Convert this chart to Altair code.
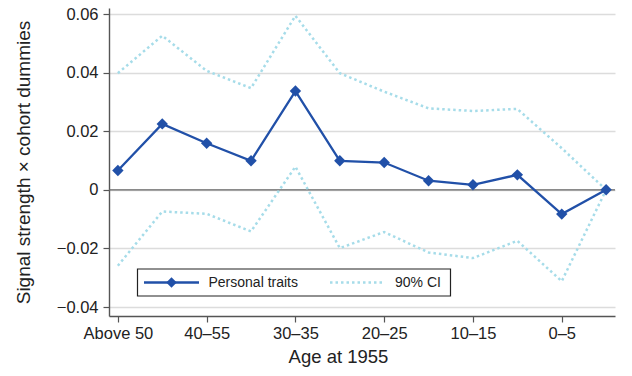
import altair as alt
import pandas as pd

categories = ["Above 50", "45–50", "40–55", "35–40", "30–35", "25–30",
              "20–25", "15–20", "10–15", "5–10", "0–5", "Below 0"]
shown_labels = ["Above 50", "40–55", "30–35", "20–25", "10–15", "0–5"]
estimate = [0.0066, 0.0225, 0.0159, 0.0099, 0.0337, 0.0099,
            0.0093, 0.0031, 0.0017, 0.0051, -0.0083, 0.0]
ci_upper = [0.0398, 0.0526, 0.0406, 0.0347, 0.0594, 0.0398,
            0.0335, 0.0278, 0.0269, 0.0276, 0.0142, 0.0]
ci_lower = [-0.0259, -0.0074, -0.0082, -0.0142, 0.0079, -0.0199,
            -0.0144, -0.0214, -0.0233, -0.0174, -0.0312, 0.0]
y_ticks = [-0.04, -0.02, 0, 0.02, 0.04, 0.06]
series_names = ["Personal traits", "90% CI"]

MAIN = "#2150a8"
CI = "#a6dce9"
FONT = "Liberation Sans"

main_df = pd.DataFrame({"cat": categories, "val": estimate,
                        "series": series_names[0], "band": "est"})
ci_df = pd.concat([
    pd.DataFrame({"cat": categories, "val": ci_upper, "series": series_names[1], "band": "upper"}),
    pd.DataFrame({"cat": categories, "val": ci_lower, "series": series_names[1], "band": "lower"}),
])
zero_df = pd.DataFrame({"val": [0]})

x_enc = alt.X("cat:N", sort=categories,
              scale=alt.Scale(type="point", padding=0.2),
              axis=alt.Axis(values=shown_labels, labelAngle=0, title="Age at 1955",
                            grid=False, labelPadding=3, titlePadding=6, titleX=229))
y_scale = alt.Scale(domain=[-0.04307, 0.06205], nice=False, zero=False)
y_enc = alt.Y("val:Q", scale=y_scale,
              axis=alt.Axis(values=y_ticks, format=".2f",
                            labelExpr="abs(datum.value) < 1e-9 ? '0' : datum.label",
                            title="Signal strength × cohort dummies",
                            grid=True, labelPadding=5, titlePadding=23, labelFlush=False))

zero = alt.Chart(zero_df).mark_rule(color="#666", strokeWidth=1.3).encode(
    y=alt.Y("val:Q", scale=y_scale))
ci = alt.Chart(ci_df).mark_line(strokeWidth=2.5, color=CI, strokeDash=[2.5, 3]).encode(
    x=x_enc, y=y_enc, detail="band:N")
line = alt.Chart(main_df).mark_line(strokeWidth=2.3, color=MAIN).encode(x=x_enc, y=y_enc)
pts = alt.Chart(main_df).mark_point(shape="diamond", filled=True, size=130,
                                    opacity=1, color=MAIN).encode(x=x_enc, y=y_enc)

# manual legend (inside the plot, lower left)
leg_df = pd.DataFrame({"label": series_names})
LY = 274.5
box = alt.Chart(leg_df.head(1)).mark_rect(fill="white", stroke="#222", strokeWidth=1.2).encode(
    x=alt.value(28.5), x2=alt.value(341.5), y=alt.value(261), y2=alt.value(288))
sym1 = alt.Chart(leg_df.head(1)).mark_rule(color=MAIN, strokeWidth=2.3).encode(
    x=alt.value(35), x2=alt.value(90), y=alt.value(LY))
dia1 = alt.Chart(leg_df.head(1)).mark_point(shape="diamond", filled=True, size=110,
                                            opacity=1, color=MAIN).encode(
    x=alt.value(62.5), y=alt.value(LY))
sym2 = alt.Chart(leg_df.head(1)).mark_rule(color=CI, strokeWidth=2.5, strokeDash=[2.5, 3]).encode(
    x=alt.value(221), x2=alt.value(276), y=alt.value(LY))
lab1 = alt.Chart(leg_df.iloc[[0]]).mark_text(align="left", baseline="middle", fontSize=14,
                                            font=FONT, color="#222").encode(
    x=alt.value(99.5), y=alt.value(LY + 0.5), text="label:N")
lab2 = alt.Chart(leg_df.iloc[[1]]).mark_text(align="left", baseline="middle", fontSize=14,
                                            font=FONT, color="#222").encode(
    x=alt.value(286), y=alt.value(LY + 0.5), text="label:N")

chart = alt.layer(zero, ci, line, pts, box, sym1, dia1, sym2, lab1, lab2).properties(
    width=506, height=308,
    autosize=alt.AutoSizeParams(type="none"),
    padding={"left": 101, "top": 0, "right": 9, "bottom": 52},
).configure(font=FONT).configure_view(stroke=None).configure_axis(
    domainColor="#555", domainWidth=1.4, tickColor="#555", tickWidth=1.2, tickSize=6,
    labelFont=FONT, labelFontSize=16.5, labelColor="#222",
    titleFont=FONT, titleFontSize=18.5, titleColor="#222", titleFontWeight="normal",
    gridColor="#dcdcdc", gridWidth=1.3,
).configure_axisY(titleFontSize=19)

chart.save("out.html", embed_options={"renderer": "svg", "actions": False})
